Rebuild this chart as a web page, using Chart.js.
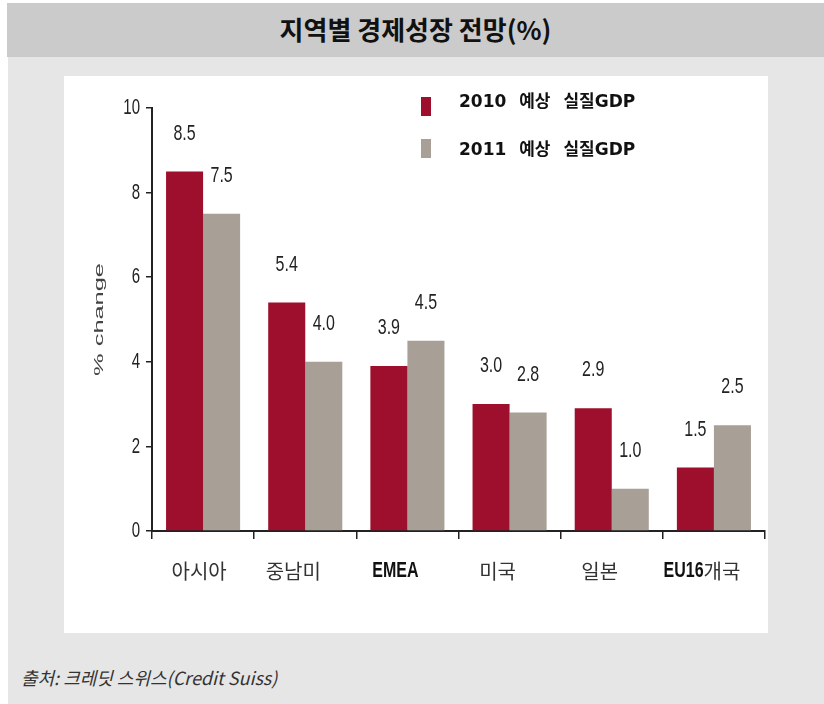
<!DOCTYPE html>
<html>
<head>
<meta charset="utf-8">
<script src="https://cdn.jsdelivr.net/npm/chart.js@4"></script>
<style>
  body { margin: 0; background: #fff; width: 824px; height: 704px; position: relative; overflow: hidden; }
  #title-bar { position: absolute; left: 7px; top: 3px; width: 817px; height: 54px; background: #cbcbcb;
    font: bold 26px "Noto Sans CJK KR", sans-serif; color: #111; text-align: center; line-height: 52px; }
  #panel { position: absolute; left: 8px; top: 57px; right: 0; bottom: 0; background: #e6e6e6; }
  #plot { position: absolute; left: 64px; top: 76px; width: 704px; height: 557px; background: #fff; }
  #source { position: absolute; left: 21px; top: 664px; font: italic 18px "Noto Sans CJK KR", sans-serif; color: #333; }
</style>
</head>
<body>
<div id="panel"></div>
<div id="title-bar">지역별 경제성장 전망(%)</div>
<div id="plot"><canvas id="chart" width="704" height="557"></canvas></div>
<div id="source">출처: 크레딧 스위스(Credit Suiss)</div>
<script>
const categories = ["아시아", "중남미", "EMEA", "미국", "일본", "EU16개국"];
const seriesNames = ["2010 예상 실질GDP", "2011 예상 실질GDP"];
const gdp2010 = [8.5, 5.4, 3.9, 3.0, 2.9, 1.5];
const gdp2011 = [7.5, 4.0, 4.5, 2.8, 1.0, 2.5];
const yTicks = [0, 2, 4, 6, 8, 10];
const colors = ["#9d0f2d", "#a89f96"];

// draw text stretched vertically (the source image is stretched)
function drawText(ctx, txt, x, y, font, sy, align, color) {
  ctx.save();
  ctx.translate(x, y);
  ctx.scale(1, sy);
  ctx.font = font;
  ctx.textAlign = align;
  ctx.textBaseline = "middle";
  ctx.fillStyle = color;
  ctx.fillText(txt, 0, 0);
  ctx.restore();
}

const textPlugin = {
  id: "texts",
  afterDraw(chart) {
    const ctx = chart.ctx;
    const xs = chart.scales.x, ys = chart.scales.y;

    // y tick labels
    ys.ticks.forEach(t => {
      drawText(ctx, String(t.value), ys.right - 12, ys.getPixelForValue(t.value), '15px "Liberation Sans"', 1.5, "right", "#222");
    });

    // y axis title
    ctx.save();
    ctx.translate(35, (ys.top + ys.bottom) / 2);
    ctx.rotate(-Math.PI / 2);
    ctx.scale(1.95, 1);
    ctx.font = '13px "Liberation Sans"';
    ctx.fillStyle = "#444";
    ctx.textAlign = "center";
    ctx.textBaseline = "middle";
    ctx.fillText("% change", 0, 0);
    ctx.restore();

    // value labels above the bars
    chart.data.datasets.forEach((ds, i) => {
      chart.getDatasetMeta(i).data.forEach((bar, j) => {
        drawText(ctx, ds.data[j].toFixed(1), bar.x, bar.y - 38, '16px "Liberation Sans"', 1.4, "center", "#222");
      });
    });

    // category labels: latin/digits bold, hangul regular
    const latinFont = 'bold 16px "Liberation Sans"';
    const koFont = '20px "Noto Sans CJK KR"';
    categories.forEach((c, i) => {
      const segs = c.split(/([A-Za-z0-9]+)/).filter(s => s);
      let total = 0;
      const widths = segs.map(s => {
        ctx.font = /[A-Za-z0-9]/.test(s) ? latinFont : koFont;
        const w = ctx.measureText(s).width;
        total += w;
        return w;
      });
      let x = xs.getPixelForValue(i) - (i === 0 ? 4 : 12) - total / 2;
      const y = xs.top + 40;
      segs.forEach((s, k) => {
        const latin = /[A-Za-z0-9]/.test(s);
        drawText(ctx, s, x, y, latin ? latinFont : koFont, latin ? 1.4 : 1, "left", latin ? "#111" : "#333");
        x += widths[k];
      });
    });

    // legend
    chart.data.datasets.forEach((ds, i) => {
      ctx.fillStyle = ds.backgroundColor;
      ctx.fillRect(357, 21 + i * 42, 10, 19);
      ctx.save();
      ctx.wordSpacing = "7px";
      drawText(ctx, ds.label, 395, 27 + i * 48, 'bold 17px "DejaVu Sans", "Noto Sans CJK KR"', 1, "left", "#111");
      ctx.restore();
    });
  }
};

new Chart(document.getElementById("chart"), {
  type: "bar",
  data: {
    labels: categories,
    datasets: [
      { label: seriesNames[0], data: gdp2010, backgroundColor: colors[0] },
      { label: seriesNames[1], data: gdp2011, backgroundColor: colors[1] },
    ]
  },
  options: {
    responsive: false,
    animation: false,
    layout: { padding: { left: 0, right: 3, top: 32, bottom: 0 } },
    datasets: { bar: { barPercentage: 1, categoryPercentage: 0.725 } },
    plugins: { legend: { display: false }, tooltip: { enabled: false } },
    scales: {
      x: {
        ticks: { display: false },
        grid: { drawOnChartArea: false, drawTicks: true, tickLength: 8, color: "#222", lineWidth: 1.5 },
        border: { color: "#222", width: 2 },
        afterFit: s => { s.height = 102; }
      },
      y: {
        min: yTicks[0],
        max: yTicks[yTicks.length - 1],
        ticks: { display: false, stepSize: yTicks[1] - yTicks[0] },
        grid: { drawOnChartArea: false, drawTicks: true, tickLength: 6, color: "#222", lineWidth: 1.5 },
        border: { color: "#222", width: 2 },
        afterFit: s => { s.width = 88; }
      }
    }
  },
  plugins: [textPlugin]
});
</script>
</body>
</html>
